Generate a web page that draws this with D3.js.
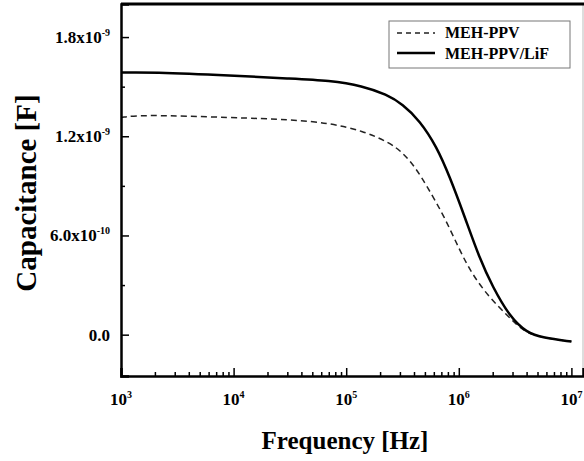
<!DOCTYPE html>
<html><head><meta charset="utf-8">
<script src="https://cdn.jsdelivr.net/npm/d3@7"></script>
<style>body{margin:0;background:#fff}svg{display:block}text{font-family:"Liberation Serif","Times New Roman",serif;font-weight:bold;fill:#000}</style>
</head><body>
<svg id="c" width="584" height="461"></svg>
<script>
// Data (log10 of frequency in Hz, capacitance in F)
const logFreqLiF = [3.0, 3.255, 4.0, 4.5, 4.853, 5.146, 5.36, 5.5, 5.653, 5.804, 5.919, 6.052, 6.185, 6.3, 6.452, 6.603, 6.745, 7.0];
const capLiF = [1.585e-9, 1.588e-9, 1.567e-9, 1.549e-9, 1.537e-9, 1.505e-9, 1.452e-9, 1.395e-9, 1.295e-9, 1.137e-9, 0.956e-9, 0.714e-9, 0.460e-9, 0.290e-9, 0.109e-9, 0.012e-9, -0.018e-9, -0.042e-9];
const logFreqPPV = [3.0, 3.167, 4.0, 4.5, 4.853, 5.146, 5.386, 5.5, 5.61, 5.72, 5.872, 6.005, 6.12, 6.273, 6.424, 6.513, 6.603, 6.745, 7.0];
const capPPV = [1.313e-9, 1.331e-9, 1.313e-9, 1.301e-9, 1.280e-9, 1.233e-9, 1.162e-9, 1.101e-9, 1.016e-9, 0.895e-9, 0.714e-9, 0.514e-9, 0.363e-9, 0.224e-9, 0.121e-9, 0.060e-9, 0.012e-9, -0.018e-9, -0.042e-9];
const seriesNames = ["MEH-PPV", "MEH-PPV/LiF"];
const yTickValues = [0, 6e-10, 1.2e-9, 1.8e-9];
const yTickMant = ["0.0", "6.0x10", "1.2x10", "1.8x10"];
const yTickExp = ["", "-10", "-9", "-9"];
const xTickExps = [3, 4, 5, 6, 7];
const xLabel = "Frequency [Hz]";
const yLabel = "Capacitance [F]";

const svg = d3.select("#c");
const L = 121, R = 583, T = 4, B = 376;
const x = d3.scaleLog().domain([1e3, Math.pow(10, 3 + (R - L) / 112.6)]).range([L, R]);
const y = d3.scaleLinear().domain([-2.5e-10, 2.0e-9]).range([B, T]);

// lines
const mk = (lf, cv) => lf.map((l, i) => [Math.pow(10, l), cv[i]]);
const line = d3.line().x(d => x(d[0])).y(d => y(d[1])).curve(d3.curveBasis);
svg.append("path").datum(mk(logFreqPPV, capPPV)).attr("d", line)
  .attr("fill", "none").attr("stroke", "#222").attr("stroke-width", 1.5).attr("stroke-dasharray", "6,4");
svg.append("path").datum(mk(logFreqLiF, capLiF)).attr("d", line)
  .attr("fill", "none").attr("stroke", "#000").attr("stroke-width", 2.5);

// frame
svg.append("line").attr("x1", R).attr("x2", R).attr("y1", T).attr("y2", B).attr("stroke", "#bbb").attr("stroke-width", 1);
svg.append("line").attr("x1", L).attr("x2", 584).attr("y1", T).attr("y2", T).attr("stroke", "#000").attr("stroke-width", 3);

// x axis (ticks inward)
const majors = xTickExps.map(e => Math.pow(10, e));
const minors = [];
for (let e = 3; e < 7; e++) for (let m = 2; m <= 9; m++) minors.push(m * Math.pow(10, e));
const xa = svg.append("g").attr("transform", `translate(0,${B})`);
xa.call(d3.axisBottom(x).tickValues(majors).tickSize(-8).tickFormat(""));
xa.append("g").call(d3.axisBottom(x).tickValues(minors).tickSize(-4).tickFormat(""));
xa.selectAll("g g path.domain").remove();
xa.selectAll("path.domain").attr("stroke-width", 2.5).attr("stroke", "#000");
xa.selectAll(".tick line").attr("stroke", "#000").attr("stroke-width", 1.5);

const xl = svg.append("g");
xTickExps.forEach(e => {
  const t = xl.append("text").attr("x", x(Math.pow(10, e))).attr("y", 405).attr("text-anchor", "middle").attr("font-size", 17);
  t.append("tspan").text("10");
  t.append("tspan").attr("dy", -7).attr("font-size", 10).text(e);
});

// y axis (ticks inward)
const ya = svg.append("g").attr("transform", `translate(${L},0)`);
ya.call(d3.axisLeft(y).tickValues(yTickValues).tickSize(-8).tickFormat(""));
ya.append("g").call(d3.axisLeft(y).tickValues([3e-10, 9e-10, 1.5e-9]).tickSize(-4).tickFormat(""));
ya.selectAll("g g path.domain").remove();
ya.selectAll("path.domain").attr("stroke-width", 2.5).attr("stroke", "#000");
ya.selectAll(".tick line").attr("stroke", "#000").attr("stroke-width", 1.5);

yTickValues.forEach((v, i) => {
  const t = svg.append("text").attr("x", 110).attr("y", y(v) + 6).attr("text-anchor", "end").attr("font-size", 17);
  t.append("tspan").text(yTickMant[i]);
  if (yTickExp[i]) t.append("tspan").attr("dy", -7).attr("font-size", 10).text(yTickExp[i]);
});

// axis titles
svg.append("text").attr("x", 345).attr("y", 449).attr("text-anchor", "middle").attr("font-size", 25).text(xLabel);
svg.append("text").attr("transform", "translate(36,193) rotate(-90)").attr("text-anchor", "middle").attr("font-size", 29).text(yLabel);

// legend
const lg = svg.append("g");
lg.append("rect").attr("x", 389).attr("y", 21).attr("width", 181).attr("height", 47).attr("fill", "#fff").attr("stroke", "#777").attr("stroke-width", 1);
lg.append("line").attr("x1", 397).attr("x2", 435).attr("y1", 33).attr("y2", 33).attr("stroke", "#222").attr("stroke-width", 1.5).attr("stroke-dasharray", "5,4");
lg.append("line").attr("x1", 397).attr("x2", 435).attr("y1", 53).attr("y2", 53).attr("stroke", "#000").attr("stroke-width", 2.5);
lg.append("text").attr("x", 445).attr("y", 38).attr("font-size", 16).text(seriesNames[0]);
lg.append("text").attr("x", 445).attr("y", 59).attr("font-size", 16).text(seriesNames[1]);
</script>
</body></html>
